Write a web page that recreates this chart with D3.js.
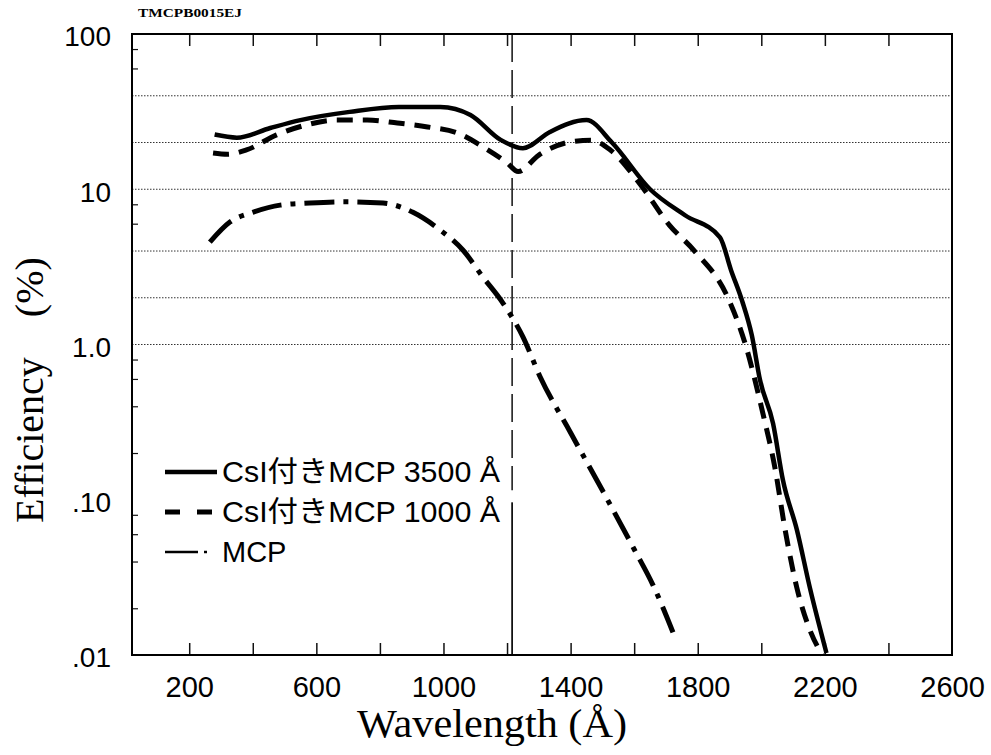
<!DOCTYPE html>
<html>
<head>
<meta charset="utf-8">
<script src="https://cdn.jsdelivr.net/npm/d3@7"></script>
<style>
  html, body { margin: 0; padding: 0; background: #fff; }
  svg { display: block; }
</style>
</head>
<body>
<svg id="chart" width="991" height="755"></svg>
<script>
// Photocathode efficiency vs wavelength (log scale), three detector types
const seriesNames = ["CsI付きMCP 3500 Å", "CsI付きMCP 1000 Å", "MCP"];

const wl3500  = [280, 350, 455, 550, 705, 860, 990, 1085, 1180, 1250, 1335, 1450, 1530, 1650, 1760, 1870, 1905, 1940, 1970, 1996, 2037, 2068, 2112, 2153, 2205];
const eff3500 = [22.5, 21.5, 24.8, 27.9, 31.5, 33.9, 33.9, 30.1, 20.8, 18.4, 23.4, 27.9, 20.0, 10.0, 6.8, 4.9, 3.0, 1.9, 1.15, 0.59, 0.31, 0.134, 0.064, 0.027, 0.0103];

const wl1000  = [275, 320, 380, 475, 570, 665, 760, 855, 950, 1045, 1125, 1200, 1235, 1300, 1400, 1465, 1525, 1620, 1710, 1790, 1895, 1950, 2005, 2043, 2075, 2112, 2150, 2192];
const eff1000 = [17.1, 16.8, 17.9, 22.4, 26.0, 27.9, 27.9, 26.7, 25.2, 23.0, 18.7, 14.8, 13.0, 16.6, 20.2, 20.7, 17.9, 10.7, 5.9, 4.0, 2.0, 1.0, 0.36, 0.16, 0.064, 0.027, 0.015, 0.01];

const wlMCP  = [265, 328, 400, 486, 580, 696, 810, 904, 989, 1061, 1124, 1187, 1250, 1304, 1400, 1500, 1600, 1660, 1722];
const effMCP = [4.57, 6.15, 7.1, 7.9, 8.15, 8.3, 8.15, 7.1, 5.47, 4.06, 2.72, 1.85, 1.12, 0.62, 0.27, 0.115, 0.048, 0.028, 0.014];

// Axis ticks
const xLabelTicks = [200, 600, 1000, 1400, 1800, 2200, 2600];
const xMinorTicks = [200, 400, 600, 800, 1000, 1200, 1400, 1600, 1800, 2000, 2200, 2400];
const yTickValues = [100, 10, 1, 0.1, 0.01];
const yTickLabels = ["100", "10", "1.0", ".10", ".01"];
const yGridValues = [40, 20, 10, 4, 2, 1];
const yMinorTicks = [80, 60, 8, 6, 0.8, 0.6, 0.4, 0.2, 0.08, 0.06, 0.04, 0.02];

// Lyman-alpha marker
const lymanAlpha = 1216;
const lymanSplit = 0.115;

const figCode = "TMCPB0015EJ";

const margin = { left: 132, top: 34, right: 39, bottom: 100 };
const W = 991, H = 755;
const innerW = W - margin.left - margin.right;
const innerH = H - margin.top - margin.bottom;

const svg = d3.select("#chart");
const g = svg.append("g").attr("transform", `translate(${margin.left},${margin.top})`);

const x = d3.scaleLinear().domain([20, 2600]).range([0, innerW]);
const y = d3.scaleLog().domain([0.01, 100]).range([innerH, 0]);

const sans = "'Liberation Sans', Arial, 'Noto Sans CJK JP', sans-serif";
const serif = "'Liberation Serif', 'Times New Roman', 'Noto Sans CJK JP', serif";

// Horizontal dotted grid
g.append("g").selectAll("line").data(yGridValues).join("line")
  .attr("x1", 0).attr("x2", innerW)
  .attr("y1", d => y(d)).attr("y2", d => y(d))
  .attr("stroke", "#333").attr("stroke-width", 1)
  .attr("stroke-dasharray", "1.5,1.5");

// Bottom: minor inward ticks, then labels
const xMinorAxis = d3.axisBottom(x).tickValues(xMinorTicks).tickSize(-12).tickFormat("");
g.append("g").attr("transform", `translate(0,${innerH})`).call(xMinorAxis)
  .call(s => s.select(".domain").remove())
  .call(s => s.selectAll(".tick line").attr("stroke", "#111").attr("stroke-width", 1.5));

const xLabelAxis = d3.axisBottom(x).tickValues(xLabelTicks).tickSize(0).tickPadding(21).tickFormat(d3.format("d"));
g.append("g").attr("transform", `translate(0,${innerH})`).call(xLabelAxis)
  .call(s => s.select(".domain").remove())
  .call(s => s.selectAll(".tick text").attr("font-family", sans).attr("font-size", 29).attr("fill", "#000"));

// Top: minor inward ticks
const xTopAxis = d3.axisTop(x).tickValues(xMinorTicks).tickSize(-12).tickFormat("");
g.append("g").call(xTopAxis)
  .call(s => s.select(".domain").remove())
  .call(s => s.selectAll(".tick line").attr("stroke", "#111").attr("stroke-width", 1.5));

// Left: labels and small inward minor ticks
const yAxis = d3.axisLeft(y).tickValues(yTickValues).tickSize(0).tickPadding(21)
  .tickFormat((d, i) => yTickLabels[i]);
g.append("g").call(yAxis)
  .call(s => s.select(".domain").remove())
  .call(s => s.selectAll(".tick text").attr("font-family", sans).attr("font-size", 28).attr("fill", "#000").attr("dy", "0.42em"));

const yMinorAxis = d3.axisLeft(y).tickValues(yMinorTicks).tickSize(-6).tickFormat("");
g.append("g").call(yMinorAxis)
  .call(s => s.select(".domain").remove())
  .call(s => s.selectAll(".tick line").attr("stroke", "#111").attr("stroke-width", 1.2));

// Lyman-alpha reference line: dashed above, solid below
g.append("line")
  .attr("x1", x(lymanAlpha)).attr("x2", x(lymanAlpha))
  .attr("y1", y(100)).attr("y2", y(lymanSplit))
  .attr("stroke", "#111").attr("stroke-width", 1.5).attr("stroke-dasharray", "28,8");
g.append("line")
  .attr("x1", x(lymanAlpha)).attr("x2", x(lymanAlpha))
  .attr("y1", y(lymanSplit) + 12).attr("y2", y(0.01))
  .attr("stroke", "#111").attr("stroke-width", 1.8);

// Curves
const line = d3.line().x(d => x(d[0])).y(d => y(d[1])).curve(d3.curveMonotoneX);
const styles = [
  { w: wl3500, e: eff3500, width: 4.5, dash: null },
  { w: wl1000, e: eff1000, width: 5, dash: "16,10" },
  { w: wlMCP,  e: effMCP,  width: 5, dash: "30,9,5,9" }
];
styles.forEach(s => {
  const pts = s.w.map((v, i) => [v, s.e[i]]);
  g.append("path").datum(pts)
    .attr("d", line)
    .attr("fill", "none")
    .attr("stroke", "#000")
    .attr("stroke-width", s.width)
    .attr("stroke-linejoin", "round")
    .attr("stroke-dasharray", s.dash);
});

// Frame
g.append("rect").attr("x", 0).attr("y", 0).attr("width", innerW).attr("height", innerH)
  .attr("fill", "none").attr("stroke", "#000").attr("stroke-width", 2);

// Legend
const legend = svg.append("g").attr("transform", "translate(165,472)");
const legendStyles = [
  { width: 4.5, dash: null, len: 278 },
  { width: 5, dash: "15,17", len: 278 },
  { width: 2.5, dash: "33,6,3,10", len: null }
];
seriesNames.forEach((name, i) => {
  const row = legend.append("g").attr("transform", `translate(0,${i * 40})`);
  row.append("line").attr("x1", 0).attr("x2", 52).attr("y1", 0).attr("y2", 0)
    .attr("stroke", "#000").attr("stroke-width", legendStyles[i].width)
    .attr("stroke-dasharray", legendStyles[i].dash);
  const t = row.append("text").attr("x", 57).attr("y", 10)
    .attr("font-family", sans).attr("font-size", 29).attr("fill", "#000")
    .text(name);
  if (legendStyles[i].len) t.attr("textLength", legendStyles[i].len).attr("lengthAdjust", "spacingAndGlyphs");
});

// Axis titles
svg.append("text")
  .attr("x", 357).attr("y", 737)
  .attr("font-family", serif).attr("font-size", 40).attr("fill", "#000")
  .attr("textLength", 270).attr("lengthAdjust", "spacingAndGlyphs")
  .text("Wavelength (Å)");

svg.append("text")
  .attr("transform", "translate(43,523) rotate(-90)")
  .attr("font-family", serif).attr("font-size", 40).attr("fill", "#000")
  .text("Efficiency　(%)");

// Figure code
svg.append("text")
  .attr("x", 138).attr("y", 17)
  .attr("font-family", serif).attr("font-size", 12).attr("font-weight", "bold").attr("fill", "#000")
  .attr("textLength", 104).attr("lengthAdjust", "spacingAndGlyphs")
  .text(figCode);
</script>
</body>
</html>
